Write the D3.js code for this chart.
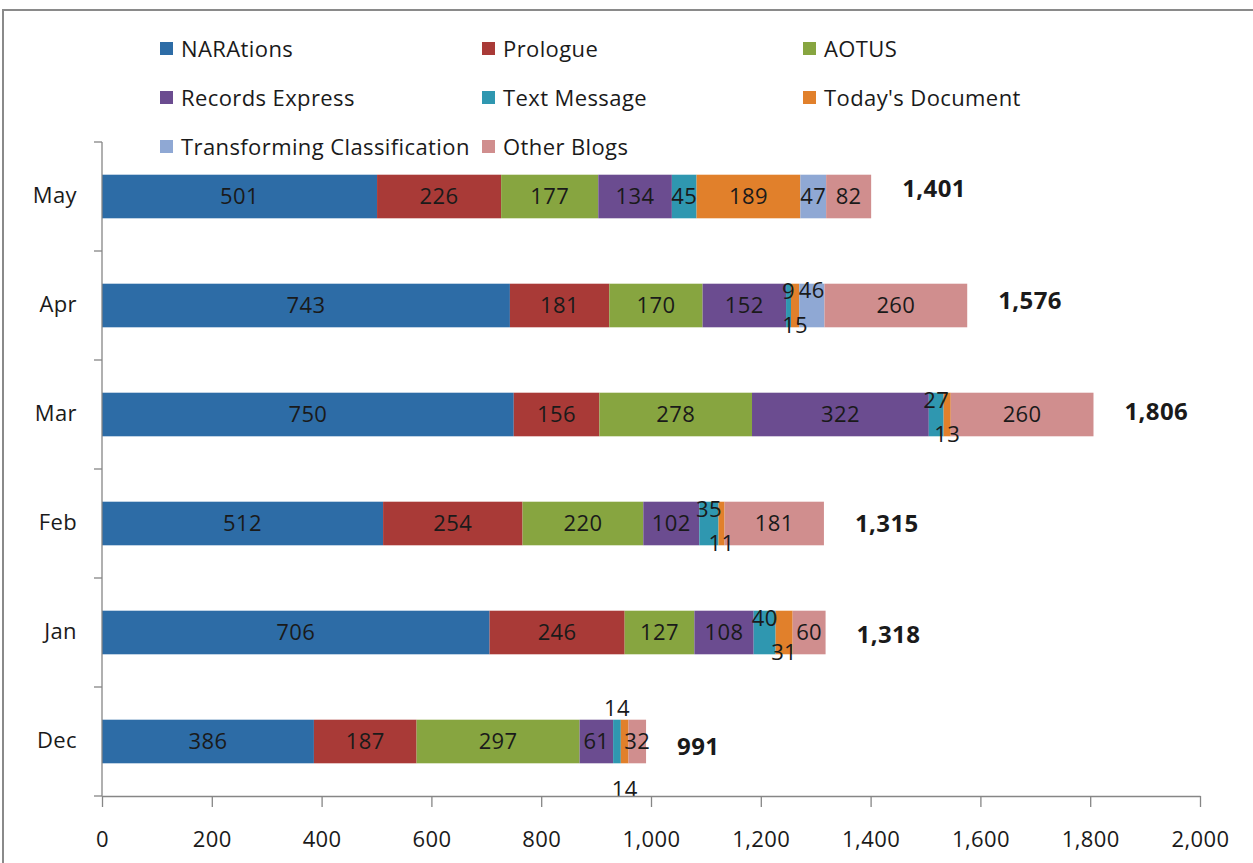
<!DOCTYPE html>
<html>
<head>
<meta charset="utf-8">
<script src="https://cdn.jsdelivr.net/npm/d3@7"></script>
<style>
  html, body { margin: 0; padding: 0; background: #fff; }
  svg { display: block; }
  text { font-family: "Open Sans", "Noto Sans", sans-serif; fill: #1a1a1a; letter-spacing: 0.4px; }
</style>
</head>
<body>
<svg id="chart" width="1253" height="863"></svg>
<script>
// Monthly visits per blog, Dec through May
const months = ["Dec", "Jan", "Feb", "Mar", "Apr", "May"];
const series = ["NARAtions", "Prologue", "AOTUS", "Records Express", "Text Message",
                "Today's Document", "Transforming Classification", "Other Blogs"];
const colors = ["#2d6ca6", "#a93a37", "#87a540", "#6b4c90", "#2f97b0", "#e1802b", "#8fa8d4", "#d08e8e"];

const naraValues     = [386, 706, 512, 750, 743, 501];
const prologueValues = [187, 246, 254, 156, 181, 226];
const aotusValues    = [297, 127, 220, 278, 170, 177];
const recordsValues  = [61, 108, 102, 322, 152, 134];
const textMsgValues  = [14, 40, 35, 27, 9, 45];
const todaysValues   = [14, 31, 11, 13, 15, 189];
const transfValues   = [0, 0, 0, 0, 46, 47];
const otherValues    = [32, 60, 181, 260, 260, 82];

const xTicks = [0, 200, 400, 600, 800, 1000, 1200, 1400, 1600, 1800, 2000];

const valueRows = [naraValues, prologueValues, aotusValues, recordsValues,
                   textMsgValues, todaysValues, transfValues, otherValues];

// Build a row per month for d3.stack
const table = months.map((m, i) => {
  const row = { month: m };
  series.forEach((s, j) => { row[s] = valueRows[j][i]; });
  return row;
});
const totals = months.map((m, i) => d3.sum(valueRows, r => r[i]));

const svg = d3.select("#chart");

// Outer chart frame
svg.append("rect")
  .attr("x", 3).attr("y", 10).attr("width", 1300).attr("height", 900)
  .attr("fill", "none").attr("stroke", "#8a8a8a").attr("stroke-width", 2);

const x = d3.scaleLinear().domain([0, 2000]).range([102, 1200]);
const y = d3.scaleBand().domain(months.slice().reverse()).range([142, 796]);
const barH = y.bandwidth() * 0.4;

const stack = d3.stack().keys(series)(table);

// Bars
const layers = svg.append("g").selectAll("g").data(stack).join("g")
  .attr("fill", (d, i) => colors[i]);
layers.selectAll("rect").data(d => d).join("rect")
  .attr("x", d => x(d[0]))
  .attr("width", d => Math.max(0, x(d[1]) - x(d[0])))
  .attr("y", d => y(d.data.month) + (y.bandwidth() - barH) / 2)
  .attr("height", barH);

// Segment value labels; narrow segments get nudged off the bar centre
const nudge = { "Text Message": -14, "Today's Document": 20, "Transforming Classification": -15 };
const monthNudge = { "Dec": 2.4 };
const segW = d => x(d[1]) - x(d[0]);
const labelG = svg.append("g").attr("font-size", 22).attr("text-anchor", "middle");
stack.forEach((layer, si) => {
  const key = series[si];
  layer.forEach((d, mi) => {
    const v = d[1] - d[0];
    if (v <= 0) return;
    let narrow = false;
    if (key === "Transforming Classification") {
      // crowded when the segment before it is a sliver
      narrow = segW(stack[si - 1][mi]) < 20;
    } else if (nudge[key] !== undefined) {
      narrow = segW(d) < 24;
    }
    const dy = narrow ? nudge[key] * (monthNudge[d.data.month] || 1) : 0;
    labelG.append("text")
      .attr("x", (x(d[0]) + x(d[1])) / 2)
      .attr("y", y(d.data.month) + y.bandwidth() / 2 + dy)
      .attr("dy", "0.35em")
      .text(v);
  });
});

// Totals
svg.append("g").selectAll("text").data(y.domain()).join("text")
  .attr("x", m => x(totals[months.indexOf(m)]) + 31)
  .attr("y", (m, k) => y(m) + y.bandwidth() / 2 - 8 + 2.6 * k)
  .attr("dy", "0.35em")
  .attr("font-size", 24).attr("font-weight", "bold")
  .text(m => d3.format(",")(totals[months.indexOf(m)]));

// Y axis
const yAxis = svg.append("g").attr("transform", "translate(102,0)");
yAxis.append("line").attr("y1", 142).attr("y2", 796).attr("stroke", "#868686").attr("stroke-width", 1.3);
const bounds = y.domain().map(m => y(m)).concat([796]);
yAxis.selectAll("line.tk").data(bounds).join("line").attr("class", "tk")
  .attr("x1", -8).attr("x2", 0).attr("y1", d => d).attr("y2", d => d)
  .attr("stroke", "#868686").attr("stroke-width", 1.3);
yAxis.selectAll("text").data(y.domain()).join("text")
  .attr("x", -25).attr("y", m => y(m) + y.bandwidth() / 2 - 1)
  .attr("dy", "0.35em").attr("text-anchor", "end").attr("font-size", 22)
  .text(m => m);

// X axis
const xAxis = svg.append("g").attr("transform", "translate(0,796)")
  .call(d3.axisBottom(x).tickValues(xTicks).tickSize(11).tickSizeOuter(0).tickPadding(24)
    .tickFormat(d3.format(",")));
xAxis.select(".domain").attr("stroke", "#868686").attr("stroke-width", 1.3);
xAxis.selectAll(".tick line").attr("stroke", "#868686").attr("stroke-width", 1.3);
xAxis.selectAll(".tick text").attr("font-size", 22).attr("fill", "#1a1a1a")
  .attr("font-family", "\"Open Sans\", sans-serif");

// Legend: three columns
const legendCols = [160, 482, 803];
const legendRows = [49, 98, 147];
const legend = svg.append("g").selectAll("g").data(series).join("g")
  .attr("transform", (s, i) => `translate(${legendCols[i % 3]},${legendRows[Math.floor(i / 3)]})`);
legend.append("rect").attr("x", 0).attr("y", -7).attr("width", 13).attr("height", 13)
  .attr("fill", (s, i) => colors[i]);
legend.append("text").attr("x", 21).attr("y", 0).attr("dy", "0.35em")
  .attr("font-size", 22).text(s => s);
</script>
</body>
</html>
